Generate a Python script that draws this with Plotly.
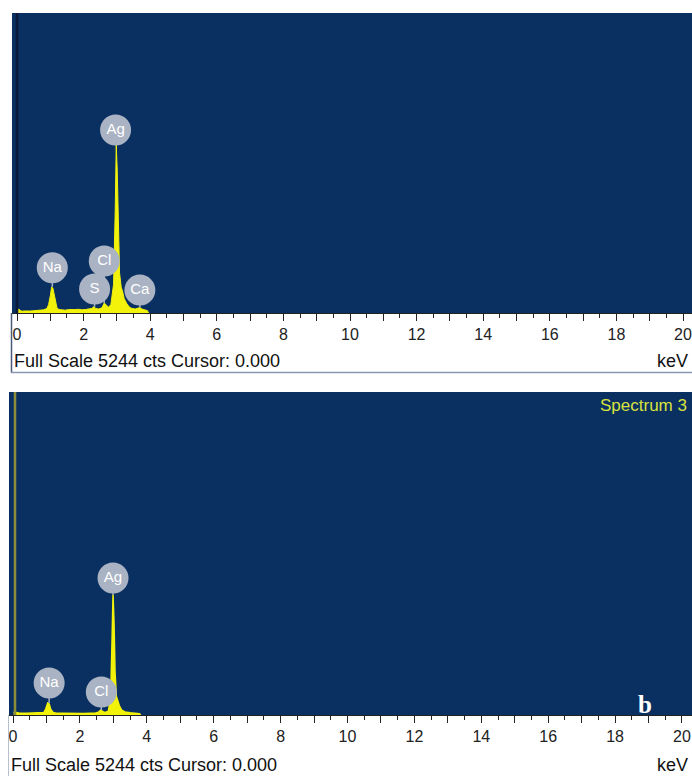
import plotly.graph_objects as go

# ---------------- data ----------------
# Top spectrum (energy keV, counts)
top_kev = [0.02, 0.05, 0.10, 0.15, 0.20, 0.30, 0.40, 0.50, 0.60, 0.70, 0.80, 0.90, 0.95,
           1.00, 1.04, 1.08, 1.12, 1.16, 1.20, 1.26, 1.35, 1.45, 1.55, 1.65, 1.75, 1.85,
           1.95, 2.05, 2.15, 2.25, 2.31, 2.36, 2.45, 2.55, 2.62, 2.68, 2.75, 2.82, 2.90,
           2.95, 2.98, 3.01, 3.04, 3.08, 3.13, 3.17, 3.22, 3.30, 3.38, 3.45, 3.55, 3.69,
           3.75, 3.85, 3.92, 3.95]
top_counts = [40, 70, 45, 30, 35, 30, 35, 40, 45, 50, 55, 80, 150,
              300, 455, 430, 300, 160, 90, 60, 55, 50, 60, 55, 60, 65,
              55, 60, 70, 80, 115, 80, 70, 90, 175, 140, 100, 150, 500,
              1800, 2940, 2500, 1400, 700, 450, 380, 250, 160, 100, 80, 70, 95,
              70, 55, 40, 0]

# Bottom spectrum (energy keV, counts)
bot_kev = [0.02, 0.05, 0.10, 0.20, 0.40, 0.60, 0.80, 0.92, 0.98, 1.04, 1.08, 1.13, 1.20,
           1.30, 1.50, 1.70, 1.90, 2.10, 2.30, 2.45, 2.55, 2.62, 2.68, 2.75, 2.85, 2.92,
           2.96, 2.99, 3.02, 3.05, 3.09, 3.14, 3.18, 3.25, 3.35, 3.50, 3.70, 3.78, 3.82]
bot_counts = [40, 50, 40, 30, 30, 30, 30, 40, 100, 195, 180, 90, 40,
              30, 30, 25, 30, 25, 30, 30, 45, 80, 60, 40, 60, 300,
              1200, 1950, 1500, 700, 300, 200, 150, 80, 50, 35, 30, 20, 0]

# zero-energy (noise) peak, exceeding full scale
zero_peak_kev = [0.0, 0.06]      # top, bottom
zero_peak_counts = [6000, 6000]

# element markers
top_labels = ["Ag", "Na", "Cl", "S", "Ca"]
top_label_kev = [2.96, 1.06, 2.62, 2.33, 3.69]
top_label_peak = [2940, 455, 175, 110, 95]
top_label_pos = [3200, 790, 910, 420, 400]

bot_labels = ["Ag", "Na", "Cl"]
bot_label_kev = [2.99, 1.08, 2.64]
bot_label_peak = [1950, 195, 80]
bot_label_pos = [2225, 520, 373]

x_ticks = list(range(0, 21))
x_tick_text = ["0", "", "2", "", "4", "", "6", "", "8", "", "10", "", "12", "",
               "14", "", "16", "", "18", "", "20"]

full_scale_text = "Full Scale 5244 cts Cursor: 0.000"
spectrum_name = "Spectrum 3"
panel_letter = "b"

# ---------------- styling ----------------
W, H = 692, 776
BG = "#0a3062"
YEL = "#f2f20a"
LBL = "#aab3c3"
FONT = "Liberation Sans, Arial, sans-serif"


def py(p):
    return 1 - p / H


fig = go.Figure()

# top panel
fig.add_trace(go.Scatter(x=top_kev, y=top_counts, mode="lines", fill="tozeroy",
                         line=dict(color=YEL, width=1), fillcolor=YEL,
                         xaxis="x", yaxis="y", hoverinfo="skip"))
fig.add_trace(go.Scatter(x=[zero_peak_kev[0]] * 2, y=[0, zero_peak_counts[0]], mode="lines",
                         line=dict(color="#0b1a36", width=2.5), xaxis="x", yaxis="y",
                         hoverinfo="skip"))
for k, pk, pos in zip(top_label_kev, top_label_peak, top_label_pos):
    fig.add_trace(go.Scatter(x=[k, k], y=[pk, pos], mode="lines",
                             line=dict(color=LBL, width=1.5), xaxis="x", yaxis="y",
                             hoverinfo="skip"))
fig.add_trace(go.Scatter(x=top_label_kev, y=top_label_pos, mode="markers+text",
                         text=top_labels, textposition="middle center",
                         textfont=dict(family=FONT, size=15, color="white"),
                         marker=dict(size=31, color=LBL, line=dict(width=0)),
                         xaxis="x", yaxis="y", hoverinfo="skip"))

# bottom panel
fig.add_trace(go.Scatter(x=bot_kev, y=bot_counts, mode="lines", fill="tozeroy",
                         line=dict(color=YEL, width=1.5), fillcolor=YEL,
                         xaxis="x2", yaxis="y2", hoverinfo="skip"))
fig.add_trace(go.Scatter(x=[zero_peak_kev[1]] * 2, y=[0, zero_peak_counts[1]], mode="lines",
                         line=dict(color="#8c8e3a", width=2.5), xaxis="x2", yaxis="y2",
                         hoverinfo="skip"))
for k, pk, pos in zip(bot_label_kev, bot_label_peak, bot_label_pos):
    fig.add_trace(go.Scatter(x=[k, k], y=[pk, pos], mode="lines",
                             line=dict(color=LBL, width=1.5), xaxis="x2", yaxis="y2",
                             hoverinfo="skip"))
fig.add_trace(go.Scatter(x=bot_label_kev, y=bot_label_pos, mode="markers+text",
                         text=bot_labels, textposition="middle center",
                         textfont=dict(family=FONT, size=15, color="white"),
                         marker=dict(size=31, color=LBL, line=dict(width=0)),
                         xaxis="x2", yaxis="y2", hoverinfo="skip"))

xcommon = dict(tickvals=x_ticks, ticktext=x_tick_text, ticks="outside", ticklen=7,
               tickwidth=1, tickcolor="#222", showgrid=False, zeroline=False,
               showline=True, linecolor="#222", linewidth=1,
               tickfont=dict(family=FONT, size=16, color="#222"),
               ticklabeloverflow="allow",
               minor=dict(dtick=0.5, tick0=0, ticks="outside", ticklen=4,
                          tickcolor="#222", tickwidth=1, showgrid=False),
               fixedrange=True)
ycommon = dict(range=[0, 5244], visible=False, showgrid=False, zeroline=False,
               fixedrange=True)

fig.update_layout(
    width=W, height=H, margin=dict(l=0, r=0, t=0, b=0),
    paper_bgcolor="white", plot_bgcolor=BG, showlegend=False,
    xaxis=dict(domain=[12 / W, 1], range=[-0.15, 20.27], anchor="y", **xcommon),
    yaxis=dict(domain=[py(313), py(13)], anchor="x", **ycommon),
    xaxis2=dict(domain=[9 / W, 1], range=[-0.12, 20.30], anchor="y2", **xcommon),
    yaxis2=dict(domain=[py(715), py(392)], anchor="x2", **ycommon),
)

ann_font = dict(family=FONT, size=18, color="#111")
fig.add_annotation(x=12 / W, y=py(361), xref="paper", yref="paper", text=full_scale_text,
                   showarrow=False, xanchor="left", yanchor="middle", font=ann_font)
fig.add_annotation(x=690 / W, y=py(361), xref="paper", yref="paper", text="keV",
                   showarrow=False, xanchor="right", yanchor="middle", font=ann_font)
fig.add_annotation(x=9 / W, y=py(765), xref="paper", yref="paper", text=full_scale_text,
                   showarrow=False, xanchor="left", yanchor="middle", font=ann_font)
fig.add_annotation(x=690 / W, y=py(765), xref="paper", yref="paper", text="keV",
                   showarrow=False, xanchor="right", yanchor="middle", font=ann_font)
fig.add_annotation(x=689 / W, y=py(405), xref="paper", yref="paper", text=spectrum_name,
                   showarrow=False, xanchor="right", yanchor="middle",
                   font=dict(family=FONT, size=17, color="#d9e23c"))
fig.add_annotation(x=645 / W, y=py(704), xref="paper", yref="paper",
                   text="<b>" + panel_letter + "</b>", showarrow=False,
                   xanchor="center", yanchor="middle",
                   font=dict(family="Liberation Serif, Times New Roman, serif", size=25,
                             color="white"))

# frame lines of the top panel
fig.add_shape(type="line", xref="paper", yref="paper", x0=11.5 / W, x1=11.5 / W,
              y0=py(313), y1=py(373), line=dict(color="#4a5a78", width=1.5))
fig.add_shape(type="line", xref="paper", yref="paper", x0=11 / W, x1=1,
              y0=py(372.5), y1=py(372.5), line=dict(color="#8a98b0", width=1.5))
fig.add_shape(type="line", xref="paper", yref="paper", x0=8.5 / W, x1=8.5 / W,
              y0=py(715), y1=py(776), line=dict(color="#b8c0cc", width=1))

fig.write_html("out.html",
               config={"displayModeBar": False},
               post_script="document.body.style.margin='0px';"
                           "document.body.style.overflow='hidden';")
